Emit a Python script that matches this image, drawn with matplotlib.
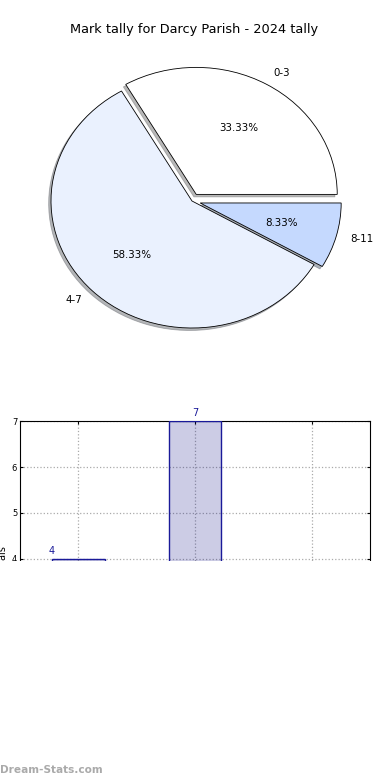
import matplotlib
matplotlib.use("Agg")
import matplotlib.pyplot as plt
from matplotlib.patches import Rectangle

title = "Mark tally for Darcy Parish - 2024 tally"
categories = ["0-3", "4-7", "8-11"]
counts = [4, 7, 1]
pie_colors = ["#ffffff", "#eaf1fe", "#c5d9fe"]
explode = [0.06, 0.0, 0.06]
bar_ylabel = "Totals"
yticks = [4, 5, 6, 7]

W, H = 390, 780
fig = plt.figure(figsize=(W / 100, H / 100), dpi=100)
plt.rcParams['font.family'] = ['DejaVu Sans']

def px_axes(left, top, width, height):
    return fig.add_axes([left / W, 1 - (top + height) / H, width / W, height / H])

# ---- Pie ----
cx, cy, rx, ry = 192, 201, 141, 127
lim = 1.3
ax1 = px_axes(cx - lim * rx, cy - lim * ry, 2 * lim * rx, 2 * lim * ry)
wedges, texts, autotexts = ax1.pie(
    counts, labels=categories, colors=pie_colors, explode=explode,
    autopct="%.2f%%", startangle=0, counterclock=True,
    shadow={"ox": -0.012, "oy": -0.014, "shade": 0.55},
    labeldistance=1.1, pctdistance=0.6,
    wedgeprops=dict(edgecolor="black", linewidth=0.6),
    textprops=dict(fontsize=7.4, color="black"))
ax1.set_aspect("auto")
ax1.set_xlim(-lim, lim)
ax1.set_ylim(-lim, lim)
ax1.axis("off")
fig.text(194 / W, 1 - 30 / H, title, ha="center", va="center", fontsize=9.3)

# ---- Bar ----
x = list(range(len(categories)))
ax2 = px_axes(20, 421, 350, 322)
ax2.bar(x, counts, width=0.45, color="navy", alpha=0.2, zorder=2)
ax2.bar(x, counts, width=0.45, facecolor="none", edgecolor="#1a1a99", linewidth=1.0, zorder=3)
ax2.set_xlim(-0.5, 2.5)
ax2.set_ylim(0, 7)
ax2.set_yticks(yticks)
ax2.set_xticks(x)
ax2.set_xticklabels(categories)
ax2.tick_params(labelsize=6, length=2, direction="in", top=True, right=True, pad=2)
ax2.grid(True, linestyle=":", color="#aaaaaa", linewidth=0.9)
for s in ax2.spines.values():
    s.set_linewidth(0.8)
label_x = [-0.23, 1.0, 2.0]
for xi, v in zip(label_x, counts):
    ax2.text(xi, v + 0.06, str(v), ha="center", va="bottom", fontsize=7, color="#1a1a99")

fig.text(3 / W, 1 - 560 / H, bar_ylabel, rotation=90, ha="center", va="center", fontsize=7)

# cover lower part (chart is cropped in the reference)
fig.patches.append(Rectangle((0, 1 - 762 / H), 1, (762 - 560.5) / H, transform=fig.transFigure,
                             facecolor="white", edgecolor="none", zorder=10))

fig.text(0, 1 - 770 / H, "Dream-Stats.com", ha="left", va="center", fontsize=7.6,
         fontweight="bold", color="#aaaaaa", zorder=11)

fig.savefig("out.png", dpi=100)
